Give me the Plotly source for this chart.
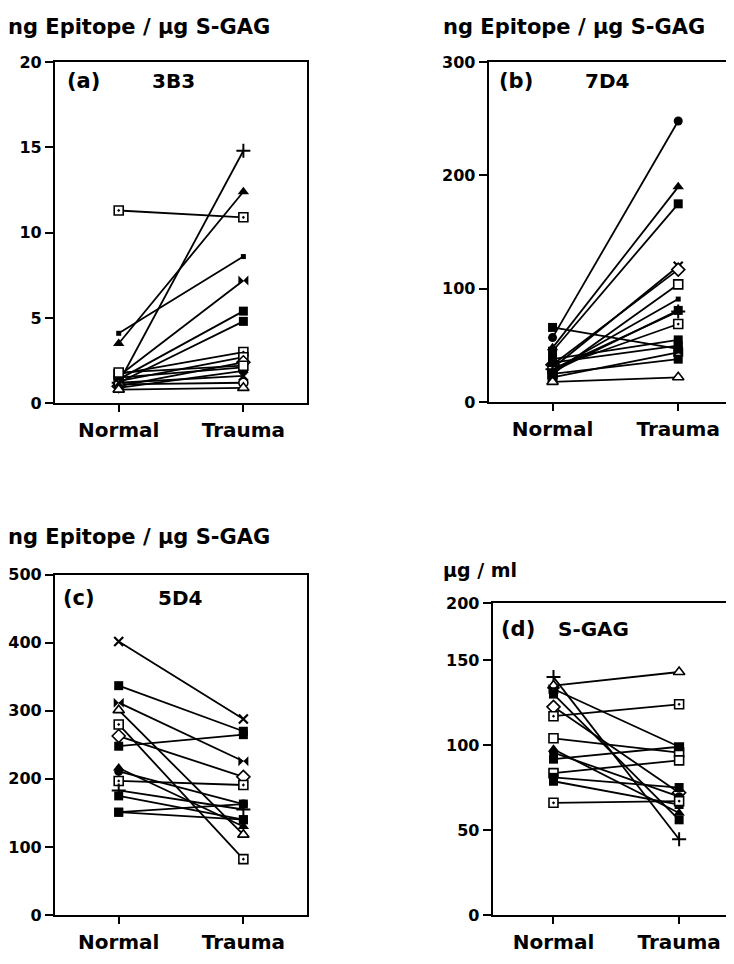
import plotly.graph_objects as go

W, H = 734, 964
FONT = "DejaVu Sans"
OFF = 8  # page body margin offset of the figure div

groups = ["Normal", "Trauma"]

# Panel (a) 3B3
a_normal = [11.3, 1.2, 3.5, 4.1, 1.6, 1.4, 1.2, 1.7, 1.3, 1.0, 1.5, 0.9, 1.1, 0.8, 1.2, 1.8]
a_trauma = [10.9, 14.8, 12.4, 8.6, 7.2, 5.4, 4.8, 3.0, 2.7, 2.4, 2.1, 1.9, 1.2, 0.9, 1.6, 2.2]
a_marks = ["sqdot", "plus", "tri", "small", "bow", "sq", "sq", "sqdot", "sqdot", "dia",
           "sq", "circ", "circo", "trio", "x", "sqo"]

# Panel (b) 7D4
b_normal = [57, 48, 45, 66, 30, 33, 25, 28, 27, 30, 38, 22, 35, 18, 25, 29]
b_trauma = [248, 190, 175, 47, 120, 117, 104, 91, 81, 69, 55, 44, 50, 22, 38, 80]
b_marks = ["circ", "tri", "sq", "sq", "x", "dia", "sqo", "small", "sq", "sqdot",
           "sq", "bow", "sq", "trio", "sq", "plus"]

# Panel (c) 5D4
c_normal = [402, 337, 312, 301, 280, 263, 248, 216, 211, 197, 183, 175, 151, 151]
c_trauma = [288, 270, 226, 118, 82, 203, 265, 130, 163, 191, 155, 140, 163, 140]
c_marks = ["x", "sq", "bow", "trio", "sqdot", "dia", "sq", "tri", "circ", "sqdot",
           "plus", "sq", "sq", "sq"]

# Panel (d) S-GAG
d_normal = [140, 135, 133, 130, 122.5, 117, 104, 97.5, 95.6, 91.7, 83.5, 81, 78.7, 66]
d_trauma = [44.6, 143, 99, 56, 72, 124, 95.6, 60, 69.6, 99, 91, 75, 65, 67]
d_marks = ["plus", "trio", "bow", "sq", "dia", "sqdot", "sqo", "tri", "circ", "sq",
           "sqo", "sq", "sq", "sqdot"]

STYLES = {
    "sq": dict(symbol="square", color="black", size=9),
    "small": dict(symbol="square", color="black", size=5),
    "sqo": dict(symbol="square", color="white", size=9, line=dict(color="black", width=1.6)),
    "sqdot": dict(symbol="square-dot", color="white", size=9, line=dict(color="black", width=1.6)),
    "tri": dict(symbol="triangle-up", color="black", size=10),
    "trio": dict(symbol="triangle-up", color="white", size=10, line=dict(color="black", width=1.6)),
    "plus": dict(symbol="cross-thin", color="black", size=10, line=dict(color="black", width=2)),
    "x": dict(symbol="x-thin", color="black", size=9, line=dict(color="black", width=2.2)),
    "bow": dict(symbol="bowtie", color="black", size=10),
    "dia": dict(symbol="diamond", color="white", size=10, line=dict(color="black", width=1.6)),
    "circ": dict(symbol="circle", color="black", size=9),
    "circo": dict(symbol="circle", color="white", size=9, line=dict(color="black", width=1.6)),
}

fig = go.Figure()

panels = [
    ("x", "y", a_normal, a_trauma, a_marks),
    ("x2", "y2", b_normal, b_trauma, b_marks),
    ("x3", "y3", c_normal, c_trauma, c_marks),
    ("x4", "y4", d_normal, d_trauma, d_marks),
]
for xa, ya, nv, tv, mk in panels:
    for n, t, m in zip(nv, tv, mk):
        fig.add_trace(go.Scatter(
            x=[0, 1], y=[n, t], xaxis=xa, yaxis=ya, mode="lines+markers",
            line=dict(color="black", width=1.8), marker=STYLES[m],
            showlegend=False, hoverinfo="skip", cliponaxis=False))


def px_x(p):
    return (p - OFF) / W


def px_y(p):
    return 1 - (p - OFF) / H


tickfont = dict(family=FONT, size=16, color="black", weight="bold")
xfont = dict(family=FONT, size=20, color="black", weight="bold")


def xaxis(left, right, rng, anchor):
    return dict(domain=[px_x(left), min(px_x(right), 1.0)], range=rng, anchor=anchor,
                tickvals=[0, 1], ticktext=groups, ticks="outside", ticklen=7,
                tickwidth=2, tickcolor="black", showline=True, linewidth=2,
                linecolor="black", mirror=True, showgrid=False, zeroline=False,
                tickfont=xfont, ticklabelstandoff=1, fixedrange=True)


def yaxis(top, bottom, rng, tv, tt, anchor):
    return dict(domain=[px_y(bottom), px_y(top)], range=rng, tickvals=tv, ticktext=tt,
                ticks="outside", ticklen=8, tickwidth=2, tickcolor="black",
                showline=True, linewidth=2, linecolor="black", mirror=True,
                showgrid=False, zeroline=False, tickfont=tickfont, anchor=anchor,
                fixedrange=True)


fig.update_layout(
    width=W, height=H, margin=dict(l=0, r=0, t=0, b=0),
    paper_bgcolor="white", plot_bgcolor="white",
    xaxis=xaxis(53, 306, [-0.512, 1.512], "y"),
    yaxis=yaxis(54, 402, [0, 20], [0, 5, 10, 15, 20], ["0", "5", "10", "15", "20"], "x"),
    xaxis2=xaxis(488, 734, [-0.508, 1.444], "y2"),
    yaxis2=yaxis(54, 401, [0, 300], [0, 100, 200, 300], ["0", "100", "200", "300"], "x2"),
    xaxis3=xaxis(53, 306, [-0.512, 1.512], "y3"),
    yaxis3=yaxis(577, 924, [0, 500], [0, 100, 200, 300, 400, 500],
                 ["0", "100", "200", "300", "400", "500"], "x3"),
    xaxis4=xaxis(492, 734, [-0.484, 1.437], "y4"),
    yaxis4=yaxis(606, 924, [0, 183.5], [0, 50, 100, 150, 183.5],
                 ["0", "50", "100", "150", "200"], "x4"),
)


def ann(text, x, y, size, anchor="left"):
    fig.add_annotation(text=text, x=px_x(x), y=px_y(y), xref="paper", yref="paper",
                       xanchor=anchor, yanchor="middle", showarrow=False,
                       font=dict(family=FONT, size=size, color="black", weight="bold"))


ann("ng Epitope / µg S-GAG", 4, 18, 21)
ann("ng Epitope / µg S-GAG", 440, 18, 21)
ann("ng Epitope / µg S-GAG", 4, 538, 21)
ann("µg / ml", 440, 572, 19)

ann("(a)", 63, 73, 21)
ann("3B3", 148, 73, 20)
ann("(b)", 496, 73, 21)
ann("7D4", 583, 73, 20)
ann("(c)", 59, 601, 21)
ann("5D4", 154, 601, 20)
ann("(d)", 498, 632, 21)
ann("S-GAG", 555, 632, 20)

fig.write_html("out.html")
